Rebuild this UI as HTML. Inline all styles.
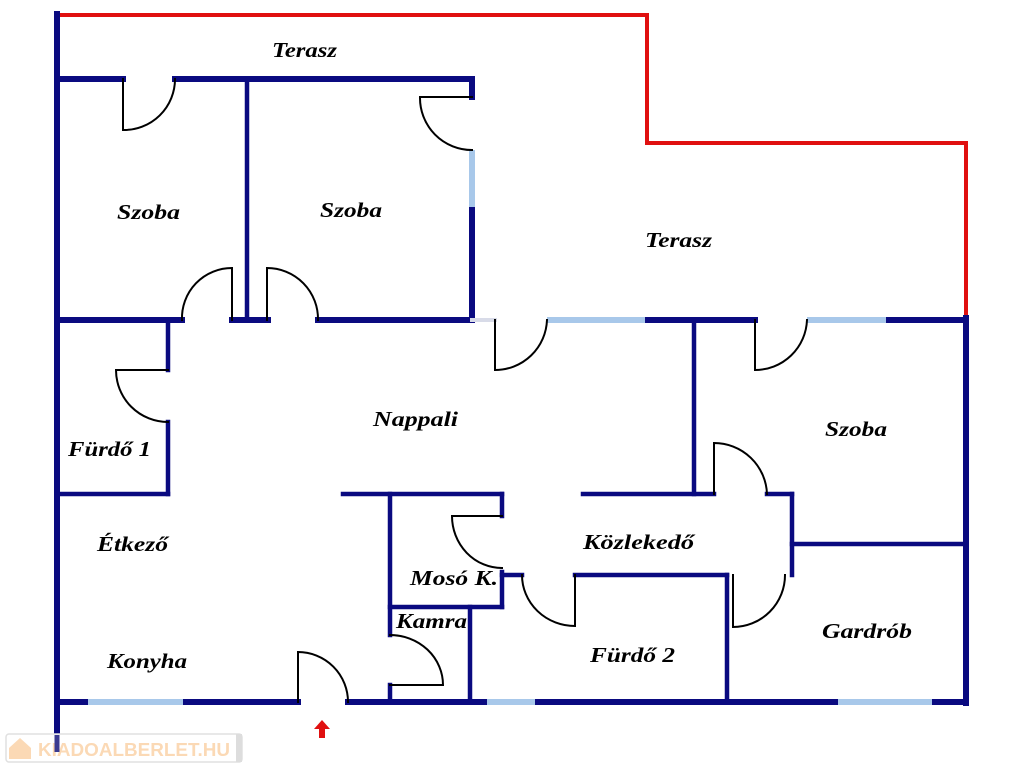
<!DOCTYPE html>
<html><head><meta charset="utf-8"><style>
html,body{margin:0;padding:0;background:#fff;width:1024px;height:768px;overflow:hidden}
svg{display:block}
text{font-family:"Liberation Serif",serif;font-weight:bold;font-style:italic;font-size:21px;fill:#000}
</style></head><body>
<svg width="1024" height="768" viewBox="0 0 1024 768" xmlns="http://www.w3.org/2000/svg">
<g fill="none" stroke-linecap="square">
<polyline points="57,15 647,15 647,143 966,143 966,318" stroke="#e01010" stroke-width="4"/>
<g stroke="#0a0a80" stroke-width="6">
<line x1="57" y1="14" x2="57" y2="735"/>
<line x1="57" y1="79" x2="123" y2="79"/>
<line x1="175" y1="79" x2="472" y2="79"/>
<line x1="472" y1="79" x2="472" y2="97"/>
<line x1="472" y1="207" x2="472" y2="320"/>
<line x1="57" y1="320" x2="182" y2="320"/>
<line x1="232" y1="320" x2="268" y2="320"/>
<line x1="318" y1="320" x2="472" y2="320"/>
<line x1="645" y1="320" x2="755" y2="320"/>
<line x1="886" y1="320" x2="966" y2="320"/>
<line x1="966" y1="318" x2="966" y2="703"/>
<line x1="57" y1="702" x2="88" y2="702"/>
<line x1="183" y1="702" x2="298" y2="702"/>
<line x1="348" y1="702" x2="487" y2="702"/>
<line x1="535" y1="702" x2="838" y2="702"/>
<line x1="932" y1="702" x2="966" y2="702"/>
</g>
<g stroke="#0a0a80" stroke-width="4.5">
<line x1="247" y1="79" x2="247" y2="320"/>
<line x1="168" y1="320" x2="168" y2="370"/>
<line x1="168" y1="422" x2="168" y2="494"/>
<line x1="57" y1="494" x2="168" y2="494"/>
<line x1="694" y1="320" x2="694" y2="494"/>
<line x1="583" y1="494" x2="714" y2="494"/>
<line x1="767" y1="494" x2="792" y2="494"/>
<line x1="792" y1="494" x2="792" y2="575"/>
<line x1="792" y1="544" x2="966" y2="544"/>
<line x1="343" y1="494" x2="502" y2="494"/>
<line x1="502" y1="494" x2="502" y2="516"/>
<line x1="390" y1="494" x2="390" y2="635"/>
<line x1="390" y1="685" x2="390" y2="700"/>
<line x1="390" y1="607" x2="502" y2="607"/>
<line x1="502" y1="572" x2="502" y2="607"/>
<line x1="502" y1="575" x2="522" y2="575"/>
<line x1="575" y1="575" x2="727" y2="575"/>
<line x1="727" y1="575" x2="727" y2="700"/>
<line x1="470" y1="607" x2="470" y2="700"/>
</g>
<g stroke="#a8c8ea" stroke-width="6" stroke-linecap="butt">
<line x1="472" y1="150" x2="472" y2="207"/>
<line x1="547" y1="320" x2="645" y2="320"/>
<line x1="807" y1="320" x2="886" y2="320"/>
<line x1="88" y1="702" x2="183" y2="702"/>
<line x1="487" y1="702" x2="535" y2="702"/>
<line x1="838" y1="702" x2="932" y2="702"/>
</g>
<line x1="472" y1="320" x2="495" y2="320" stroke="#d8dbe8" stroke-width="4"/>
<g stroke="#000" stroke-width="2">
<path d="M123,79 V130 A51,51 0 0 0 175,79"/>
<path d="M472,97 H420 A52,52 0 0 0 472,150"/>
<path d="M232,320 V268 A50,50 0 0 0 182,320"/>
<path d="M267,320 V268 A51,51 0 0 1 318,320"/>
<path d="M168,370 H116 A52,52 0 0 0 168,422"/>
<path d="M495,320 V370 A52,52 0 0 0 547,320"/>
<path d="M755,320 V370 A52,52 0 0 0 807,320"/>
<path d="M714,494 V443 A53,53 0 0 1 767,494"/>
<path d="M502,516 H452 A50,52 0 0 0 502,568"/>
<path d="M575,575 V626 A53,51 0 0 1 522,575"/>
<path d="M733,575 V627 A52,52 0 0 0 785,575"/>
<path d="M390,635 A53,50 0 0 1 443,685 H390"/>
<path d="M298,702 V652 A50,50 0 0 1 348,702"/>
</g>
</g>
<polygon points="322,720 314,729 319,729 319,738 325,738 325,729 330,729" fill="#e01010"/>
<rect x="6" y="734" width="236" height="28" rx="3" fill="#fff" stroke="#e0e0e0" stroke-width="1.5"/>
<rect x="236" y="734" width="6" height="28" fill="#ddd"/>
<path d="M9,748 L20,738 L31,748 V759 H9 Z" fill="#fbd9b5"/>
<text x="38" y="756" textLength="192" lengthAdjust="spacingAndGlyphs" style="font-family:'Liberation Sans',sans-serif;font-style:normal;font-size:18px;fill:#fbd9b5">KIADOALBERLET.HU</text>
<line x1="57" y1="735" x2="57" y2="752" stroke="#3a3a90" stroke-width="5"/>
<g lengthAdjust="spacingAndGlyphs">
<text x="272" y="57" textLength="65" lengthAdjust="spacingAndGlyphs">Terasz</text>
<text x="117" y="219" textLength="63" lengthAdjust="spacingAndGlyphs">Szoba</text>
<text x="320" y="217" textLength="62" lengthAdjust="spacingAndGlyphs">Szoba</text>
<text x="645" y="247" textLength="67" lengthAdjust="spacingAndGlyphs">Terasz</text>
<text x="373" y="426" textLength="85" lengthAdjust="spacingAndGlyphs">Nappali</text>
<text x="68" y="456" textLength="83" lengthAdjust="spacingAndGlyphs">Fürdő 1</text>
<text x="825" y="436" textLength="62" lengthAdjust="spacingAndGlyphs">Szoba</text>
<text x="97" y="551" textLength="71" lengthAdjust="spacingAndGlyphs">Étkező</text>
<text x="583" y="549" textLength="111" lengthAdjust="spacingAndGlyphs">Közlekedő</text>
<text x="410" y="585" textLength="88" lengthAdjust="spacingAndGlyphs">Mosó K.</text>
<text x="396" y="628" textLength="71" lengthAdjust="spacingAndGlyphs">Kamra</text>
<text x="107" y="668" textLength="80" lengthAdjust="spacingAndGlyphs">Konyha</text>
<text x="590" y="662" textLength="85" lengthAdjust="spacingAndGlyphs">Fürdő 2</text>
<text x="822" y="638" textLength="90" lengthAdjust="spacingAndGlyphs">Gardrób</text>
</g>
</svg>
</body></html>
